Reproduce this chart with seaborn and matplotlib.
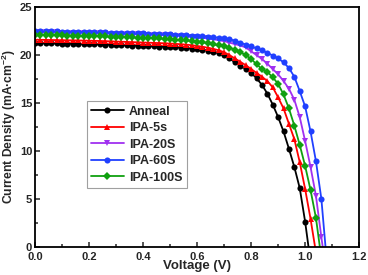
"""J-V curves of annealed vs IPA-treated devices."""

import matplotlib

matplotlib.use("Agg")
import matplotlib.pyplot as plt
import numpy as np
import pandas as pd
import seaborn as sns
from matplotlib.ticker import FormatStrFormatter, MultipleLocator

# voltage sweep, 0.02 V steps
voltage = np.round(np.arange(0, 1.081, 0.02), 2)

samples = ["Anneal", "IPA-5s", "IPA-20S", "IPA-60S", "IPA-100S"]

j_anneal = [
    21.20, 21.19, 21.18, 21.17, 21.16, 21.15, 21.14, 21.13, 21.12, 21.10,
    21.09, 21.07, 21.06, 21.04, 21.02, 21.00, 20.98, 20.96, 20.94, 20.92,
    20.90, 20.88, 20.86, 20.84, 20.81, 20.78, 20.75, 20.72, 20.68, 20.63,
    20.57, 20.50, 20.42, 20.30, 20.15, 19.95, 19.60, 19.20, 18.85, 18.50,
    18.10, 17.55, 16.85, 15.95, 14.80, 13.50, 12.00, 10.20, 8.30, 6.10,
    2.60, -1.60,
]
j_ipa5 = [
    21.55, 21.54, 21.53, 21.52, 21.51, 21.50, 21.49, 21.48, 21.47, 21.46,
    21.45, 21.43, 21.42, 21.40, 21.38, 21.36, 21.34, 21.32, 21.30, 21.28,
    21.26, 21.24, 21.22, 21.20, 21.18, 21.15, 21.12, 21.08, 21.04, 20.98,
    20.90, 20.82, 20.72, 20.60, 20.45, 20.25, 19.95, 19.60, 19.25, 18.90,
    18.50, 18.10, 17.70, 17.25, 16.60, 15.55, 14.40, 12.80, 11.20, 8.80,
    6.00, 2.90, -0.60,
]
j_ipa20 = [
    22.35, 22.34, 22.33, 22.32, 22.31, 22.30, 22.29, 22.28, 22.27, 22.26,
    22.25, 22.23, 22.22, 22.20, 22.18, 22.16, 22.14, 22.13, 22.12, 22.11,
    22.10, 22.08, 22.06, 22.04, 22.02, 22.00, 21.97, 21.94, 21.90, 21.85,
    21.80, 21.75, 21.70, 21.60, 21.50, 21.40, 21.25, 21.10, 20.95, 20.75,
    20.35, 19.95, 19.55, 19.05, 18.50, 17.95, 17.25, 16.45, 15.30, 13.50,
    11.00, 8.30, 5.30, 1.00, -3.00,
]
j_ipa60 = [
    22.45, 22.44, 22.43, 22.42, 22.41, 22.40, 22.39, 22.38, 22.37, 22.36,
    22.35, 22.34, 22.32, 22.31, 22.29, 22.27, 22.25, 22.24, 22.22, 22.21,
    22.20, 22.18, 22.16, 22.14, 22.12, 22.10, 22.08, 22.05, 22.02, 21.99,
    21.95, 21.91, 21.87, 21.82, 21.76, 21.70, 21.60, 21.45, 21.25, 21.05,
    20.85, 20.65, 20.45, 20.20, 19.90, 19.60, 19.20, 18.60, 17.70, 16.20,
    14.60, 12.00, 8.90, 5.00, -1.50,
]
j_ipa100 = [
    22.05, 22.04, 22.03, 22.02, 22.01, 22.00, 21.99, 21.98, 21.96, 21.95,
    21.94, 21.92, 21.91, 21.89, 21.87, 21.85, 21.83, 21.81, 21.79, 21.77,
    21.75, 21.73, 21.71, 21.68, 21.64, 21.60, 21.56, 21.52, 21.47, 21.41,
    21.35, 21.28, 21.20, 21.08, 20.95, 20.85, 20.70, 20.50, 20.25, 19.95,
    19.55, 19.00, 18.50, 18.20, 17.65, 16.95, 15.85, 14.40, 12.60, 10.60,
    8.40, 5.90, 3.00, -1.20,
]

curves = [j_anneal, j_ipa5, j_ipa20, j_ipa60, j_ipa100]
colors = ["#000000", "#ff0000", "#a030f0", "#2040ff", "#10a010"]
markers = ["o", "^", "v", "o", "D"]

frames = []
for name, j in zip(samples, curves):
    frames.append(pd.DataFrame({"V": voltage[: len(j)], "J": j, "sample": name}))
data = pd.concat(frames, ignore_index=True)

sns.set_theme(style="ticks")
plt.rcParams["font.family"] = ["Liberation Sans", "DejaVu Sans"]
plt.rcParams["font.weight"] = "bold"
plt.rcParams["mathtext.fontset"] = "custom"
plt.rcParams["mathtext.rm"] = "Liberation Sans:bold"
plt.rcParams["mathtext.it"] = "Liberation Sans:bold"
plt.rcParams["mathtext.bf"] = "Liberation Sans:bold"

fig = plt.figure(figsize=(3.68, 2.75), dpi=100)
ax = fig.add_axes([0.095, 0.103, 0.881, 0.873])

sns.lineplot(
    data, x="V", y="J", hue="sample", style="sample", hue_order=samples,
    style_order=samples, palette=dict(zip(samples, colors)),
    markers=dict(zip(samples, markers)), dashes=False, ax=ax,
    linewidth=1.3, markersize=4.4, markeredgewidth=0,
)

ax.set_xlim(0, 1.2)
ax.set_ylim(0, 25)
ax.xaxis.set_major_locator(MultipleLocator(0.2))
ax.xaxis.set_minor_locator(MultipleLocator(0.1))
ax.yaxis.set_major_locator(MultipleLocator(5))
ax.yaxis.set_minor_locator(MultipleLocator(2.5))
ax.xaxis.set_major_formatter(FormatStrFormatter("%.1f"))
ax.tick_params(which="both", direction="in", labelsize=8, width=1.1)
ax.tick_params(which="major", length=3.5)
ax.tick_params(which="minor", length=2)
ax.tick_params(axis="x", pad=3.5)
ax.tick_params(axis="y", pad=2)
for lab in ax.get_xticklabels() + ax.get_yticklabels():
    lab.set_fontweight("bold")
for spine in ax.spines.values():
    spine.set_linewidth(1.3)
    spine.set_color("black")

ax.set_xlabel("Voltage (V)", fontsize=9.5, fontweight="bold", labelpad=-1)
ax.set_ylabel("Current Density (mA·cm$^{-2}$)", fontsize=8.7, fontweight="bold", labelpad=1.5)

handles, labels = ax.get_legend_handles_labels()
leg = ax.legend(
    handles, labels, loc="upper left", bbox_to_anchor=(0.16, 0.605),
    prop={"weight": "bold", "size": 9}, frameon=True, fancybox=False,
    edgecolor="#888888", handlelength=2.6, handletextpad=0.4,
    labelspacing=0.36, borderpad=0.35, borderaxespad=0,
)
leg.get_frame().set_linewidth(0.8)

fig.savefig("out.png", dpi=100)
